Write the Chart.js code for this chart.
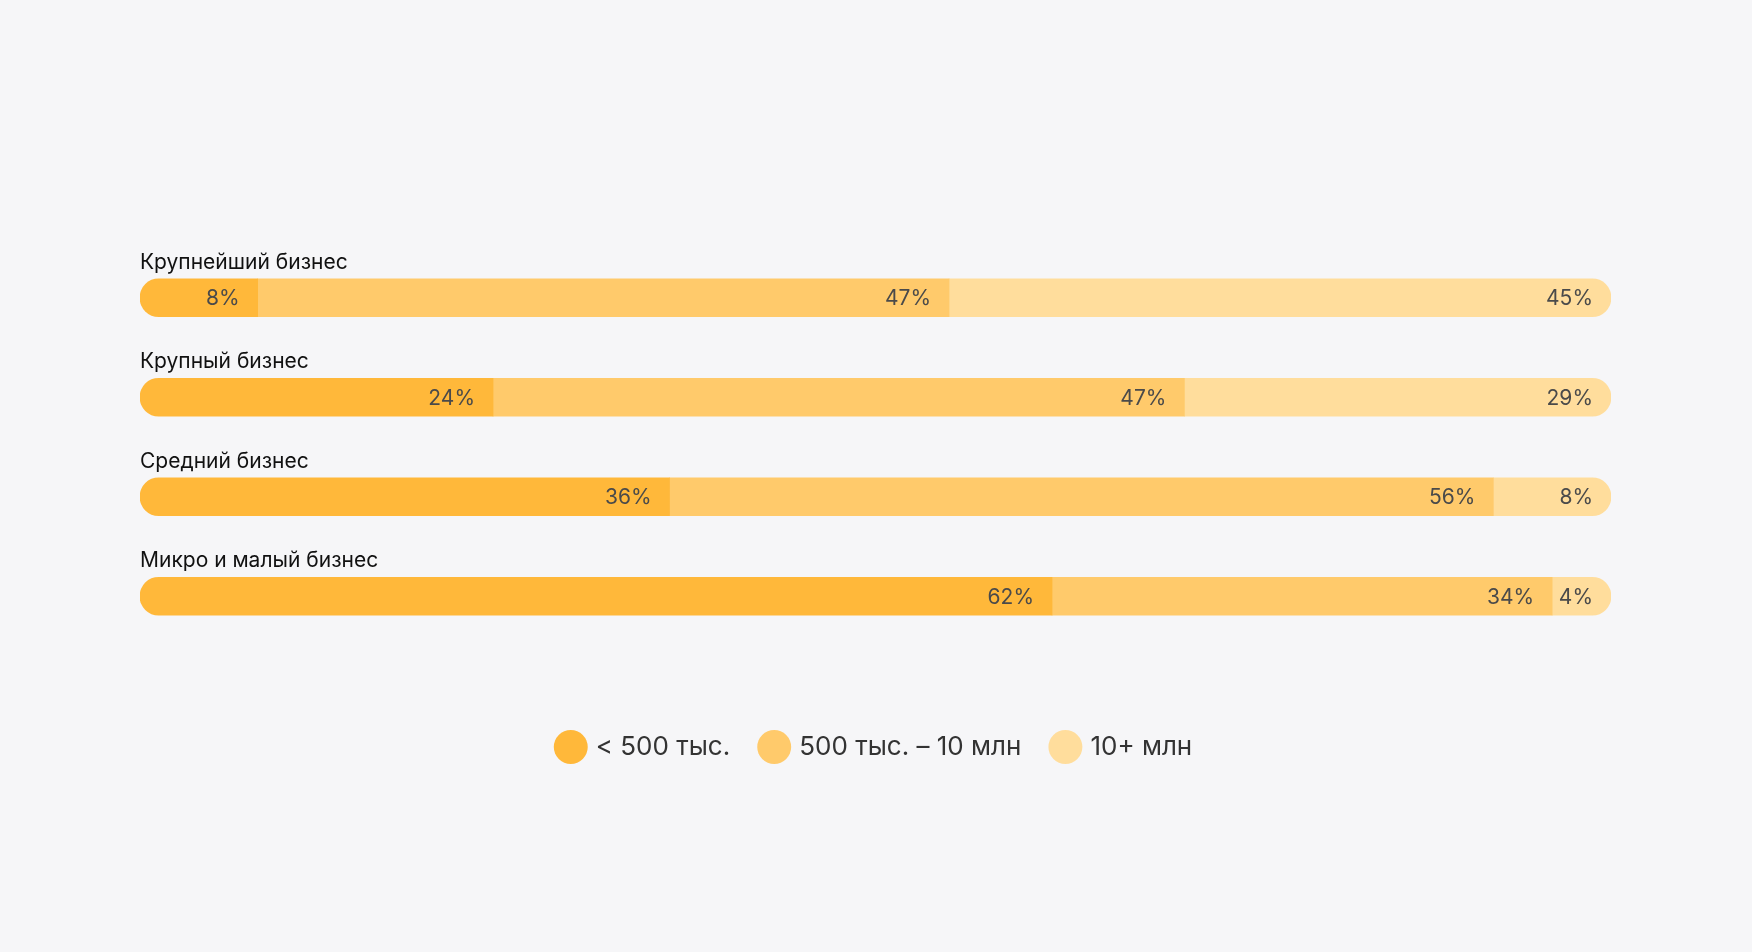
<!DOCTYPE html>
<html><head><meta charset="utf-8">
<script src="https://cdn.jsdelivr.net/npm/chart.js@4/dist/chart.umd.min.js"></script>
<style>html,body{margin:0;background:#F6F6F8;}#w{width:1752px;height:952px;}</style>
</head><body><div id="w"><canvas id="c"></canvas></div>
<script>
const categories = ["Крупнейший бизнес","Крупный бизнес","Средний бизнес","Микро и малый бизнес"];
const seriesNames = ["< 500 тыс.","500 тыс. – 10 млн","10+ млн"];
const small = [8,24,36,62];
const medium = [47,47,56,34];
const large = [45,29,8,4];
const colors = ["#FFB83A","#FFCA6B","#FFDD9C"];
const R = 19;
const labelsPlugin = {
  id:'lbl',
  afterDatasetsDraw(chart){
    const ctx = chart.ctx;
    ctx.save();
    chart.data.datasets.forEach((ds,di)=>{
      chart.getDatasetMeta(di).data.forEach((bar,i)=>{
        ctx.font = '21px Inter, "Open Sans", sans-serif';
        ctx.fillStyle = '#4a4a4a';
        ctx.textAlign='right'; ctx.textBaseline='middle';
        ctx.fillText(ds.data[i]+'%', bar.x-18, bar.y+1);
        if(di===0){
          ctx.font = '21px Inter, "Open Sans", sans-serif';
          ctx.fillStyle = '#111';
          ctx.textAlign='left'; ctx.textBaseline='alphabetic';
          ctx.fillText(categories[i], chart.chartArea.left, bar.y - bar.height/2 - 10);
        }
      });
    });
    ctx.restore();
  }
};
new Chart(document.getElementById('c'),{
  type:'bar',
  data:{labels:categories,datasets:[
    {label:seriesNames[0],data:small,backgroundColor:colors[0],borderRadius:{topLeft:R,bottomLeft:R,topRight:0,bottomRight:0},borderSkipped:false},
    {label:seriesNames[1],data:medium,backgroundColor:colors[1],borderRadius:0,borderSkipped:false},
    {label:seriesNames[2],data:large,backgroundColor:colors[2],borderRadius:{topLeft:0,bottomLeft:0,topRight:R,bottomRight:R},borderSkipped:false}
  ]},
  options:{
    indexAxis:'y',responsive:true,maintainAspectRatio:false,animation:false,
    layout:{padding:{left:140,right:141,top:248,bottom:182}},
    datasets:{bar:{barThickness:38}},
    scales:{
      x:{stacked:true,min:0,max:100,display:true,ticks:{display:false},grid:{display:false},border:{display:false},afterFit(s){s.height=56;}},
      y:{stacked:true,display:false}
    },
    plugins:{
      tooltip:{enabled:false},
      legend:{position:'bottom',labels:{usePointStyle:true,pointStyle:'circle',boxWidth:24,boxHeight:24,padding:32,color:'#333',font:{size:26,family:'Inter, "Open Sans", sans-serif'}}}
    }
  },
  plugins:[labelsPlugin]
});
</script></body></html>
